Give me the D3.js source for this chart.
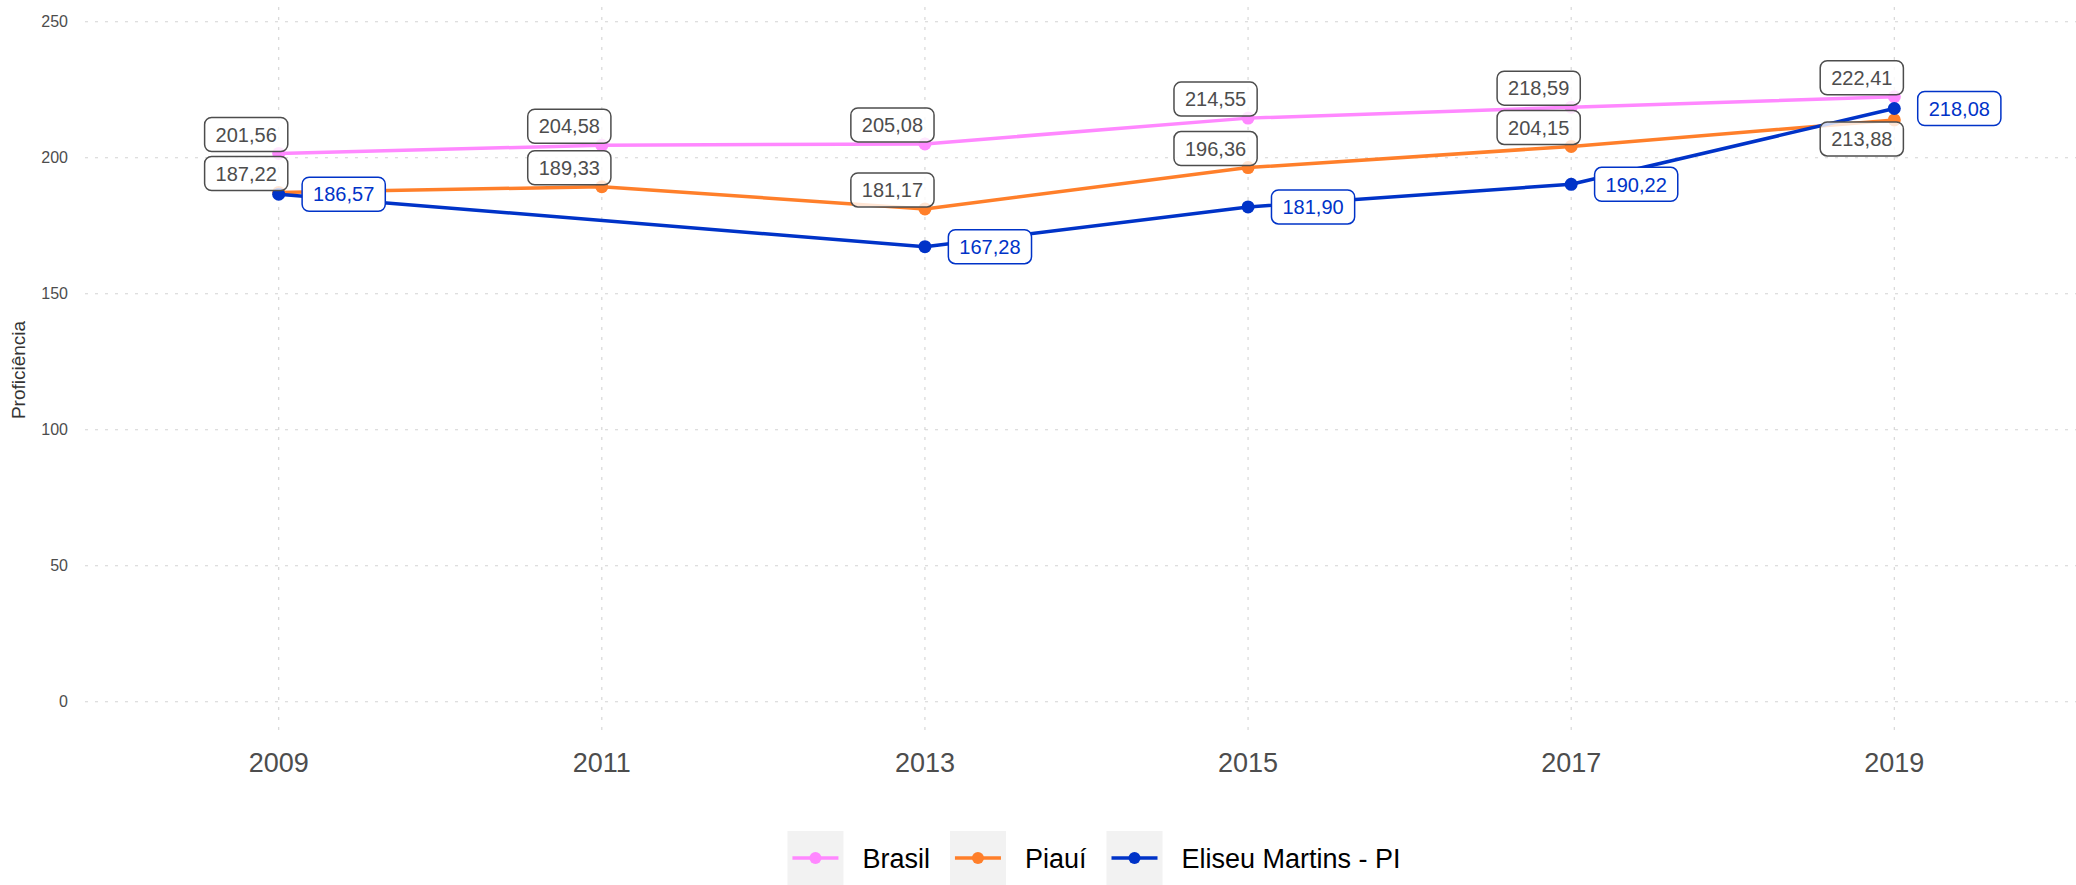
<!DOCTYPE html>
<html>
<head>
<meta charset="utf-8">
<script src="https://cdn.jsdelivr.net/npm/d3@7"></script>
<style>
  html, body { margin: 0; padding: 0; background: #fff; }
  svg { display: block; font-family: "Liberation Sans", Arial, sans-serif; }
  .grid line { stroke: #d4d4d4; stroke-width: 1.1; stroke-dasharray: 3 7; }
  .ytick { fill: #4d4d4d; font-size: 16px; }
  .xtick { fill: #4d4d4d; font-size: 27px; }
</style>
</head>
<body>
<svg id="chart"></svg>
<script>
// Proficiência por ano: Brasil, Piauí e Eliseu Martins - PI

const YEARS = [2009, 2011, 2013, 2015, 2017, 2019];
const BRASIL = [201.56, 204.58, 205.08, 214.55, 218.59, 222.41];
const PIAUI = [187.22, 189.33, 181.17, 196.36, 204.15, 213.88];
const ELISEU = [186.57, null, 167.28, 181.90, 190.22, 218.08]; // sem 2011
const SERIES_NAMES = ["Brasil", "Piauí", "Eliseu Martins - PI"];
const Y_TICKS = [0, 50, 100, 150, 200, 250];

const WIDTH = 2076, HEIGHT = 885;
const PANEL = { left: 85, right: 2076, top: 7, bottom: 733 };
const COLORS = { "Brasil": "#ff88ff", "Piauí": "#ff7f2a", "Eliseu Martins - PI": "#0033c8" };
const LABEL_GRAY = "#4d4d4d";

// where ggrepel pushed the gray labels below the point instead of above
const LABEL_BELOW = [{ name: "Piauí", year: 2019 }];

const fmt = d3.formatLocale({ decimal: ",", thousands: ".", grouping: [3], currency: ["R$", ""] }).format(".2f");

const svg = d3.select("#chart").attr("width", WIDTH).attr("height", HEIGHT);

const x = d3.scaleLinear().domain([2009, 2019]).range([278.7, 1894.3]);
const y = d3.scaleLinear().domain([0, 250]).range([701.7, 21.7]);

const series = [BRASIL, PIAUI, ELISEU].map((vals, i) => ({
  name: SERIES_NAMES[i],
  points: YEARS.map((yr, j) => ({ year: yr, value: vals[j] })).filter(p => p.value != null)
}));

// grid
const grid = svg.append("g").attr("class", "grid");
grid.selectAll("line.h").data(Y_TICKS).join("line")
  .attr("class", "h")
  .attr("x1", PANEL.left).attr("x2", PANEL.right)
  .attr("y1", d => y(d)).attr("y2", d => y(d));
grid.selectAll("line.v").data(YEARS).join("line")
  .attr("class", "v")
  .attr("x1", d => x(d)).attr("x2", d => x(d))
  .attr("y1", PANEL.top).attr("y2", PANEL.bottom);

// axes text
svg.append("g").selectAll("text").data(Y_TICKS).join("text")
  .attr("class", "ytick")
  .attr("x", 68).attr("y", d => y(d))
  .attr("dy", "0.36em")
  .attr("text-anchor", "end")
  .text(d => d);

svg.append("g").selectAll("text").data(YEARS).join("text")
  .attr("class", "xtick")
  .attr("x", d => x(d)).attr("y", 772)
  .attr("text-anchor", "middle")
  .text(d => d);

svg.append("text")
  .attr("transform", `translate(25,${(PANEL.top + PANEL.bottom) / 2}) rotate(-90)`)
  .attr("text-anchor", "middle")
  .attr("fill", "#333")
  .style("font-size", "19px")
  .text("Proficiência");

// lines + points
const line = d3.line().x(d => x(d.year)).y(d => y(d.value));
const lineLayer = svg.append("g");
const pointLayer = svg.append("g");
const labelLayer = svg.append("g");

series.forEach(s => {
  lineLayer.append("path")
    .datum(s.points)
    .attr("d", line)
    .attr("fill", "none")
    .attr("stroke", COLORS[s.name])
    .attr("stroke-width", 3.5)
    .attr("stroke-linejoin", "round");
});
series.forEach(s => {
  pointLayer.selectAll(null).data(s.points).join("circle")
    .attr("cx", d => x(d.year)).attr("cy", d => y(d.value))
    .attr("r", 6.5)
    .attr("fill", COLORS[s.name]);
});

// labels
function addLabel(cx, cy, txt, color, fillOpacity) {
  const g = labelLayer.append("g").attr("transform", `translate(${cx},${cy})`);
  const rect = g.append("rect");
  const t = g.append("text")
    .attr("text-anchor", "middle")
    .attr("dy", "0.36em")
    .attr("fill", color)
    .style("font-size", "20px")
    .text(txt);
  const w = t.node().getComputedTextLength() + 22;
  const h = 34;
  rect.attr("x", -w / 2).attr("y", -h / 2)
    .attr("width", w).attr("height", h)
    .attr("rx", 7)
    .attr("fill", "#fff").attr("fill-opacity", fillOpacity)
    .attr("stroke", color).attr("stroke-width", 1.5);
}

series.forEach(s => {
  s.points.forEach(p => {
    const px = x(p.year), py = y(p.value);
    if (s.name === "Eliseu Martins - PI") {
      addLabel(px + 65, py, fmt(p.value), COLORS[s.name], 1);
    } else {
      const below = LABEL_BELOW.some(b => b.name === s.name && b.year === p.year);
      addLabel(px - 32.5, py + (below ? 19 : -19), fmt(p.value), LABEL_GRAY, 0.8);
    }
  });
});

// legend
const legend = svg.append("g");
let lx = 0;
SERIES_NAMES.forEach(name => {
  const g = legend.append("g").attr("transform", `translate(${lx},0)`);
  g.append("rect").attr("x", 0).attr("y", -27).attr("width", 56).attr("height", 54).attr("fill", "#f2f2f2");
  g.append("line").attr("x1", 5).attr("x2", 51).attr("y1", 0).attr("y2", 0)
    .attr("stroke", COLORS[name]).attr("stroke-width", 3.5);
  g.append("circle").attr("cx", 28).attr("cy", 0).attr("r", 6).attr("fill", COLORS[name]);
  const t = g.append("text").attr("x", 75).attr("dy", "0.36em")
    .attr("fill", "#000").style("font-size", "27px").text(name);
  lx += 75 + t.node().getComputedTextLength() + 20;
});
const legendWidth = lx - 20;
legend.attr("transform", `translate(${1094 - legendWidth / 2},858)`);
</script>
</body>
</html>
